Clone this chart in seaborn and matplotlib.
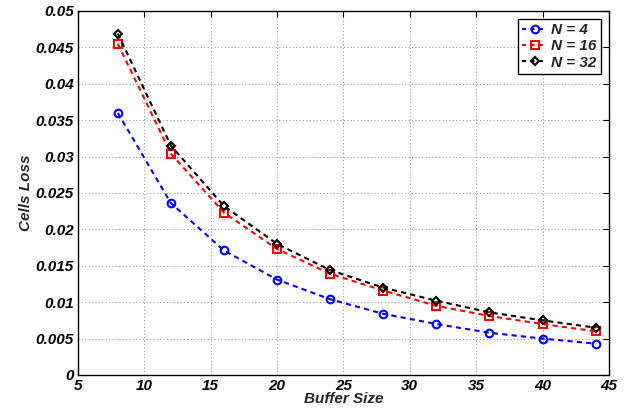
import matplotlib
matplotlib.use("Agg")
import matplotlib.pyplot as plt
import pandas as pd
import seaborn as sns
from matplotlib.ticker import FuncFormatter, MultipleLocator

buffer_size = [8, 12, 16, 20, 24, 28, 32, 36, 40, 44]
loss_n4 = [0.0360, 0.0236, 0.0171, 0.0131, 0.0104, 0.0084, 0.0070, 0.0058, 0.0050, 0.0043]
loss_n16 = [0.0455, 0.0304, 0.0223, 0.0173, 0.0139, 0.0116, 0.0095, 0.0081, 0.0070, 0.0060]
loss_n32 = [0.0469, 0.0315, 0.0232, 0.0180, 0.0144, 0.0120, 0.0102, 0.0086, 0.0075, 0.0065]

series = [
    ("N = 4", loss_n4, "#0000FF", "o"),
    ("N = 16", loss_n16, "#FF0000", "s"),
    ("N = 32", loss_n32, "#000000", "D"),
]

sns.set_theme(style="white")
plt.rcParams.update({
    "font.family": ["Liberation Sans", "DejaVu Sans"],
    "font.weight": "bold",
    "font.style": "italic",
    "axes.linewidth": 1.0,
    "axes.edgecolor": "black",
})

fig = plt.figure(figsize=(6.33, 4.16), dpi=100)
ax = fig.add_axes([0.1232, 0.0986, 0.8388, 0.875])

for label, values, color, marker in series:
    df = pd.DataFrame({"buffer": buffer_size, "loss": values})
    sns.lineplot(
        data=df, x="buffer", y="loss", ax=ax, label=label, color=color,
        linewidth=1.5, marker=marker, dashes=False,
        markersize=5.5 if marker != "D" else 4.5,
        markerfacecolor="none", markeredgecolor=color, markeredgewidth=1.5,
    )
for line in ax.get_lines():
    line.set_linestyle((0, (2.5, 2)))

ax.set_xlim(5, 45)
ax.set_ylim(0, 0.05)
ax.xaxis.set_major_locator(MultipleLocator(5))
ax.yaxis.set_major_locator(MultipleLocator(0.005))
ax.yaxis.set_major_formatter(FuncFormatter(lambda v, p: f"{v:.3f}".rstrip("0").rstrip(".") if v else "0"))
ax.grid(True, linestyle=(0, (1, 2.5)), color="#8a8a8a", linewidth=0.7)
ax.tick_params(direction="in", top=True, right=True, length=4, width=0.8,
               labelsize=11, colors="black", pad=3)
for t in ax.get_xticklabels() + ax.get_yticklabels():
    t.set_fontweight("bold")
    t.set_fontstyle("italic")

ax.set_xlabel("Buffer Size", fontsize=11, fontweight="bold", fontstyle="italic", labelpad=-1)
ax.set_ylabel("Cells Loss", fontsize=11, fontweight="bold", fontstyle="italic", labelpad=2)

leg = ax.legend(loc="upper right", fontsize=11, handlelength=1.6, handletextpad=0.3,
                borderpad=0.3, labelspacing=0.15, fancybox=False, framealpha=1,
                borderaxespad=0.5)
leg.get_frame().set_edgecolor("black")
leg.get_frame().set_linewidth(1.0)
for t in leg.get_texts():
    t.set_fontweight("bold")
    t.set_fontstyle("italic")
for h in leg.get_lines():
    h.set_linestyle((0, (2, 2)))

fig.savefig("out.png", dpi=100)
